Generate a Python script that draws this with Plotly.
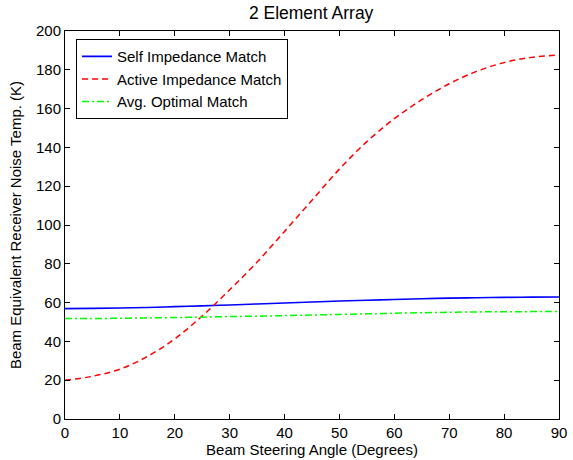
import plotly.graph_objects as go

angles = [0, 5, 10, 15, 20, 25, 30, 35, 40, 45, 50, 55, 60, 65, 70, 75, 80, 85, 90]
self_match = [56.9, 57.0, 57.2, 57.5, 57.9, 58.3, 58.8, 59.3, 59.8, 60.3, 60.8, 61.2, 61.6, 62.0, 62.3, 62.5, 62.7, 62.8, 62.9]
active_match = [20.0, 22.0, 25.7, 32.2, 41.3, 53.1, 66.6, 80.9, 96.7, 112.8, 128.8, 143.0, 154.8, 164.6, 172.8, 179.2, 183.7, 186.4, 187.6]
avg_optimal = [51.8, 51.85, 51.9, 52.1, 52.3, 52.5, 52.8, 53.0, 53.3, 53.6, 53.9, 54.2, 54.5, 54.8, 55.0, 55.2, 55.3, 55.35, 55.4]

x_ticks = [0, 10, 20, 30, 40, 50, 60, 70, 80, 90]
y_ticks = [0, 20, 40, 60, 80, 100, 120, 140, 160, 180, 200]

FONT = "Liberation Sans, Arial, Helvetica, sans-serif"

fig = go.Figure()
fig.add_trace(go.Scatter(x=angles, y=self_match, mode="lines", name="Self Impedance Match",
                         line=dict(color="#0000ff", width=1.6, shape="spline")))
fig.add_trace(go.Scatter(x=angles, y=active_match, mode="lines", name="Active Impedance Match",
                         line=dict(color="#ff0000", width=1.5, dash="6px,4px", shape="spline")))
fig.add_trace(go.Scatter(x=angles, y=avg_optimal, mode="lines", name="Avg. Optimal Match",
                         line=dict(color="#00ff00", width=1.5, dash="7px,3px,2px,3px", shape="spline")))

axis_common = dict(showgrid=False, zeroline=False, showline=True, linecolor="black", linewidth=1,
                   mirror="ticks", ticks="inside", ticklen=5, tickcolor="black", automargin=False,
                   tickfont=dict(family=FONT, size=15, color="black"))

fig.update_layout(
    width=573, height=460,
    margin=dict(l=65, r=14, t=31, b=41),
    paper_bgcolor="white", plot_bgcolor="white",
    font=dict(family=FONT, size=15, color="black"),
    title=dict(text="2 Element Array", x=0.543, xanchor="center", y=0.972, yanchor="middle",
               font=dict(family=FONT, size=17.5, color="black")),
    xaxis=dict(range=[0, 90], tickvals=x_ticks, ticktext=[str(v) for v in x_ticks],
               title=dict(text="Beam Steering Angle (Degrees)", standoff=0,
                          font=dict(family=FONT, size=15)), **axis_common),
    yaxis=dict(range=[0, 200], tickvals=y_ticks, ticktext=[str(v) for v in y_ticks],
               title=dict(text="Beam Equivalent Receiver Noise Temp. (K)", standoff=10,
                          font=dict(family=FONT, size=15)), **axis_common),
    legend=dict(x=0.0223, y=0.979, xanchor="left", yanchor="top",
                bgcolor="white", bordercolor="black", borderwidth=1,
                font=dict(family=FONT, size=15, color="black"),
                tracegroupgap=0, itemwidth=30),
    showlegend=True,
)

fig.write_html("out.html", config={"displayModeBar": False},
               post_script="document.body.style.margin='0';document.body.style.padding='0';")
